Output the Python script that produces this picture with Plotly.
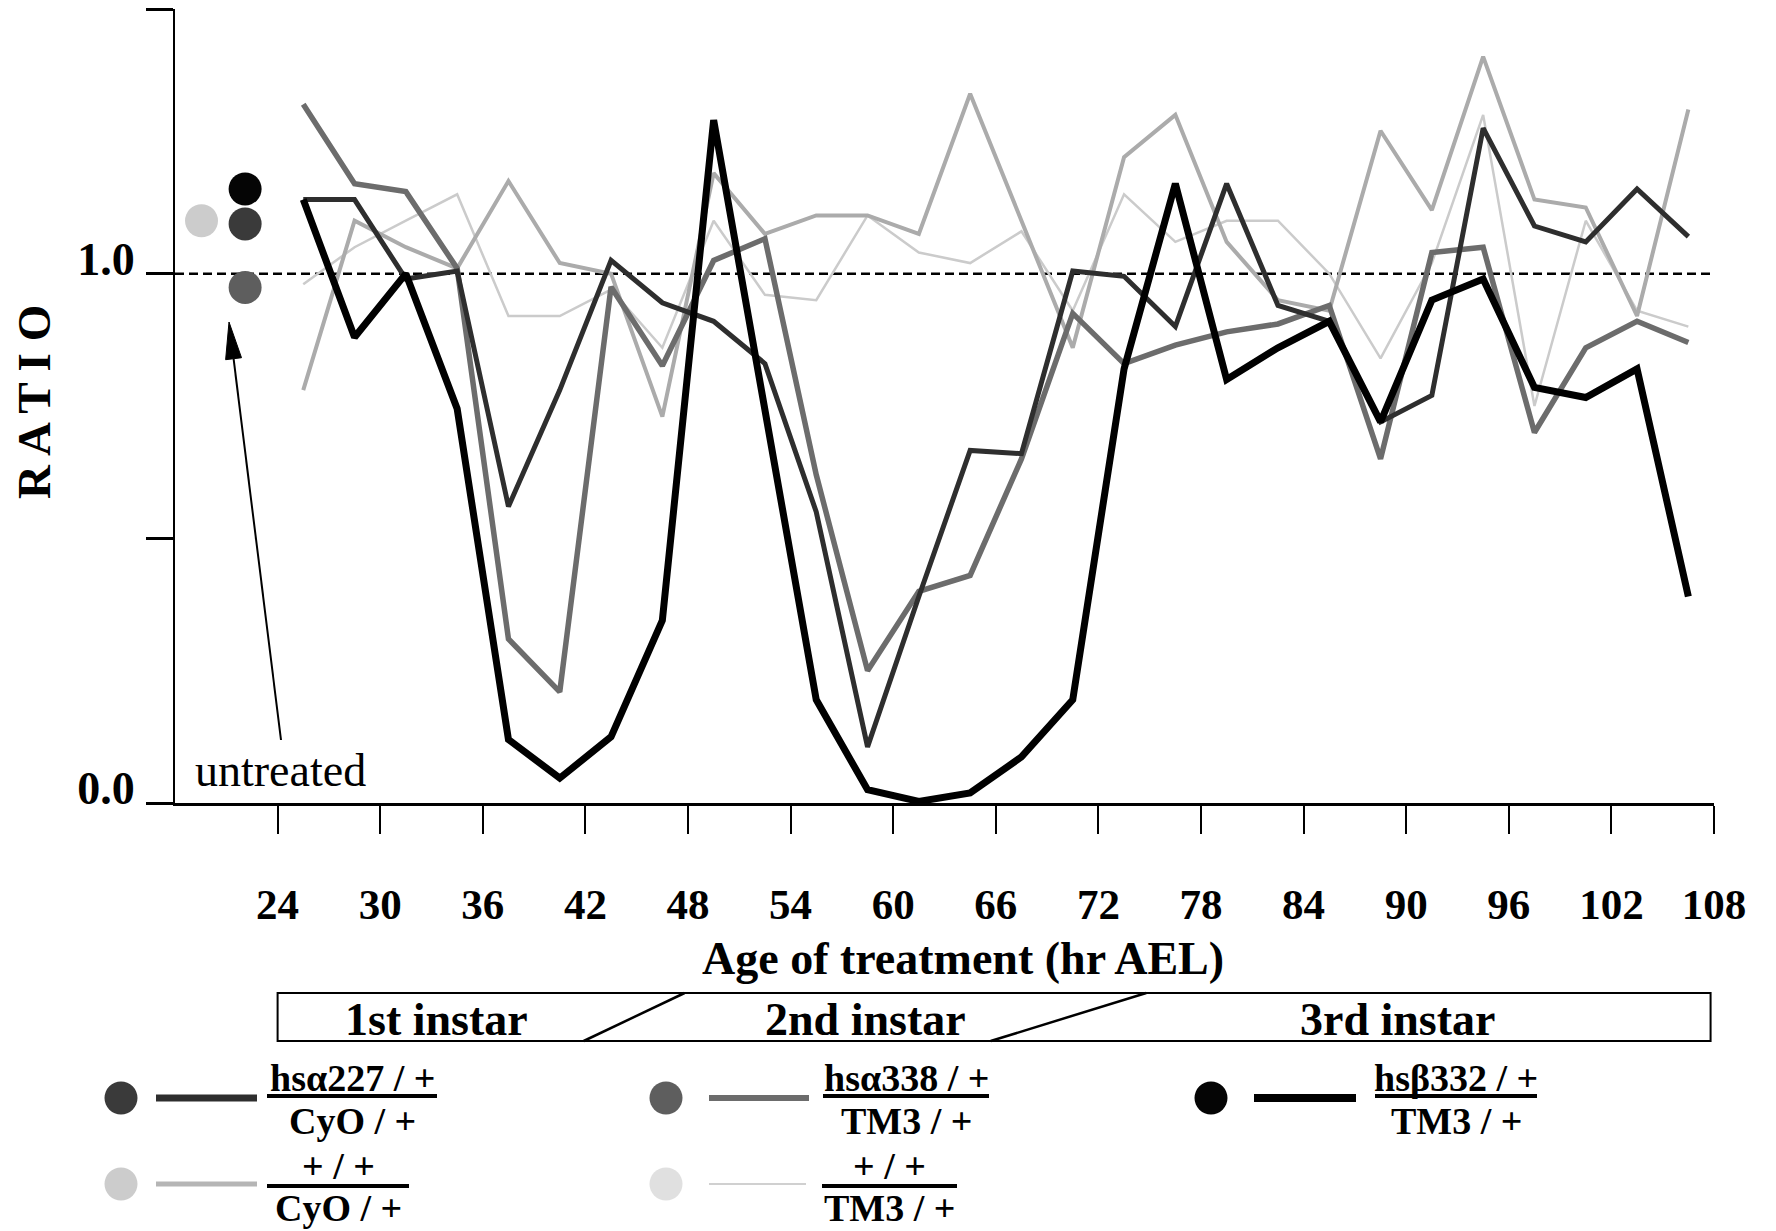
import plotly.graph_objects as go

# ---------------- data ----------------
hours = [25.5, 28.5, 31.5, 34.5, 37.5, 40.5, 43.5, 46.5, 49.5, 52.5, 55.5, 58.5, 61.5, 64.5,
         67.5, 70.5, 73.5, 76.5, 79.5, 82.5, 85.5, 88.5, 91.5, 94.5, 97.5, 100.5, 103.5, 106.5]

hsa227_cyo = [1.14, 1.14, 0.99, 1.005, 0.56, 0.78, 1.025, 0.945, 0.91, 0.83, 0.55, 0.106, 0.39, 0.666,
              0.66, 1.005, 0.995, 0.90, 1.17, 0.94, 0.91, 0.72, 0.77, 1.275, 1.09, 1.06, 1.16, 1.07]
hsa338_tm3 = [1.32, 1.17, 1.155, 1.01, 0.31, 0.21, 0.975, 0.826, 1.025, 1.066, 0.62, 0.25, 0.40, 0.43,
              0.65, 0.925, 0.83, 0.865, 0.89, 0.905, 0.94, 0.65, 1.04, 1.05, 0.70, 0.86, 0.91, 0.87]
hsb332_tm3 = [1.14, 0.88, 1.00, 0.745, 0.12, 0.047, 0.125, 0.345, 1.29, 0.75, 0.195, 0.025, 0.003, 0.019,
              0.087, 0.195, 0.82, 1.17, 0.80, 0.86, 0.91, 0.72, 0.95, 0.99, 0.785, 0.766, 0.82, 0.39]
wt_cyo = [0.78, 1.10, 1.05, 1.01, 1.175, 1.02, 1.00, 0.73, 1.19, 1.075, 1.11, 1.11, 1.075, 1.34,
          1.10, 0.86, 1.22, 1.30, 1.06, 0.95, 0.93, 1.27, 1.12, 1.41, 1.14, 1.125, 0.92, 1.31]
wt_tm3 = [0.98, 1.05, 1.10, 1.15, 0.92, 0.92, 0.97, 0.86, 1.10, 0.96, 0.95, 1.11, 1.04, 1.02,
          1.08, 0.93, 1.15, 1.06, 1.10, 1.10, 1.00, 0.84, 1.02, 1.30, 0.75, 1.10, 0.93, 0.90]

untreated_names = ["+/+ CyO", "hsb332", "hsa227", "hsa338"]
untreated_values = [1.10, 1.16, 1.094, 0.974]

x_tick_hours = [24, 30, 36, 42, 48, 54, 60, 66, 72, 78, 84, 90, 96, 102, 108]
x_tick_labels = ["24", "30", "36", "42", "48", "54", "60", "66", "72", "78", "84", "90", "96", "102", "108"]
y_tick_vals = [0.0, 0.5, 1.0, 1.5]
y_tick_labels = ["0.0", "", "1.0", ""]

stage_names = ["1st instar", "2nd instar", "3rd instar"]

# ---------------- layout constants ----------------
W, H = 1776, 1231
PL, PR, PT, PB = 175, 1714, 9, 803
XR = [18, 108]
YR = [0, 1.5]
SERIF = "Liberation Serif"

def pxx(px):
    return (px - PL) / (PR - PL)

def pxy(py):
    return (PB - py) / (PB - PT)

fig = go.Figure()

series = [
    (wt_tm3, "#cbcbcb", 2.5),
    (wt_cyo, "#ababab", 4),
    (hsa338_tm3, "#6c6c6c", 5.5),
    (hsa227_cyo, "#2e2e2e", 5),
    (hsb332_tm3, "#000000", 7),
]
for vals, col, w in series:
    fig.add_trace(go.Scatter(x=hours, y=vals, mode="lines",
                             line=dict(color=col, width=w), hoverinfo="skip"))

# untreated dots
untreated_x = [19.55, 22.1, 22.1, 22.1]
untreated_colors = ["#cccccc", "#050505", "#3a3a3a", "#5e5e5e"]
fig.add_trace(go.Scatter(x=untreated_x, y=untreated_values, mode="markers",
                         marker=dict(size=33, color=untreated_colors, line=dict(width=0)),
                         hoverinfo="skip"))

shapes = []
annotations = []

# dashed reference line at 1.0
shapes.append(dict(type="line", xref="x", yref="y", x0=18, x1=107.8, y0=1.0, y1=1.0,
                   line=dict(color="black", width=2.5, dash="9px,5px"), layer="below"))

# arrow for "untreated"
tail = (281, 740)
tip = (229, 322)
dx, dy = tip[0] - tail[0], tip[1] - tail[1]
L = (dx * dx + dy * dy) ** 0.5
ux, uy = dx / L, dy / L
nx, ny = -uy, ux
head_len, head_half = 37, 8
bx, by = tip[0] - head_len * ux, tip[1] - head_len * uy
shapes.append(dict(type="line", xref="paper", yref="paper",
                   x0=pxx(tail[0]), y0=pxy(tail[1]), x1=pxx(bx), y1=pxy(by),
                   line=dict(color="black", width=2)))
c1 = (bx + head_half * nx, by + head_half * ny)
c2 = (bx - head_half * nx, by - head_half * ny)
path = "M {:.5f},{:.5f} L {:.5f},{:.5f} L {:.5f},{:.5f} Z".format(
    pxx(tip[0]), pxy(tip[1]), pxx(c1[0]), pxy(c1[1]), pxx(c2[0]), pxy(c2[1]))
shapes.append(dict(type="path", xref="paper", yref="paper", path=path,
                   fillcolor="black", line=dict(color="black", width=1)))

annotations.append(dict(text="untreated", x=pxx(193), y=pxy(770), xref="paper", yref="paper",
                        xanchor="left", yanchor="middle", showarrow=False,
                        font=dict(family=SERIF, size=46, color="black")))

# y title
annotations.append(dict(text="<b>R A T I O</b>", x=pxx(34), y=pxy(402), xref="paper", yref="paper",
                        textangle=-90, xanchor="center", yanchor="middle", showarrow=False,
                        font=dict(family=SERIF, size=47, color="black")))
# x title
annotations.append(dict(text="<b>Age of treatment (hr AEL)</b>", x=pxx(963), y=pxy(958),
                        xref="paper", yref="paper", xanchor="center", yanchor="middle",
                        showarrow=False, font=dict(family=SERIF, size=46, color="black")))

# stage bar
bar_top, bar_bot = 993, 1041
shapes.append(dict(type="rect", xref="x", yref="paper", x0=24, x1=107.8,
                   y0=pxy(bar_bot), y1=pxy(bar_top), line=dict(color="black", width=2)))
for xb, xt in [(41.9, 47.8), (65.7, 74.8)]:
    shapes.append(dict(type="line", xref="x", yref="paper", x0=xb, x1=xt,
                       y0=pxy(bar_bot), y1=pxy(bar_top), line=dict(color="black", width=2.5)))
for name, xc in zip(stage_names, [33.3, 58.4, 89.5]):
    annotations.append(dict(text="<b>%s</b>" % name, x=xc, y=pxy(1019), xref="x", yref="paper",
                            xanchor="center", yanchor="middle", showarrow=False,
                            font=dict(family=SERIF, size=46, color="black")))

# legend (built by hand: dot, line sample, genotype fraction)
legend_entries = [
    dict(cx=121, row=0, ccol="#3a3a3a", lx0=156, lx1=257, lcol="#2e2e2e", lw=7,
         bx0=267, bx1=437, num="hsα227 / +", den="CyO / +"),
    dict(cx=666, row=0, ccol="#5e5e5e", lx0=709, lx1=809, lcol="#6c6c6c", lw=6,
         bx0=823, bx1=989, num="hsα338 / +", den="TM3 / +"),
    dict(cx=1211, row=0, ccol="#050505", lx0=1254, lx1=1356, lcol="#000000", lw=8,
         bx0=1375, bx1=1537, num="hsβ332 / +", den="TM3 / +"),
    dict(cx=121, row=1, ccol="#cccccc", lx0=156, lx1=257, lcol="#b5b5b5", lw=5,
         bx0=267, bx1=409, num="+ / +", den="CyO / +"),
    dict(cx=666, row=1, ccol="#e0e0e0", lx0=709, lx1=806, lcol="#d0d0d0", lw=2,
         bx0=822, bx1=957, num="+ / +", den="TM3 / +"),
]
row_y = [1098, 1184]
row_bar = [1096, 1186]
row_num = [1078, 1166]
row_den = [1121, 1208]
for e in legend_entries:
    r = e["row"]
    cy = row_y[r]
    shapes.append(dict(type="circle", xref="paper", yref="paper",
                       xsizemode="pixel", ysizemode="pixel",
                       xanchor=pxx(e["cx"]), yanchor=pxy(cy),
                       x0=-16.5, x1=16.5, y0=-16.5, y1=16.5,
                       fillcolor=e["ccol"], line=dict(width=0)))
    shapes.append(dict(type="line", xref="paper", yref="paper",
                       x0=pxx(e["lx0"]), x1=pxx(e["lx1"]), y0=pxy(cy), y1=pxy(cy),
                       line=dict(color=e["lcol"], width=e["lw"])))
    shapes.append(dict(type="line", xref="paper", yref="paper",
                       x0=pxx(e["bx0"]), x1=pxx(e["bx1"]), y0=pxy(row_bar[r]), y1=pxy(row_bar[r]),
                       line=dict(color="black", width=4)))
    xc = pxx((e["bx0"] + e["bx1"]) / 2)
    annotations.append(dict(text="<b>%s</b>" % e["num"], x=xc, y=pxy(row_num[r]),
                            xref="paper", yref="paper", xanchor="center", yanchor="middle",
                            showarrow=False, font=dict(family=SERIF, size=38, color="black")))
    annotations.append(dict(text="<b>%s</b>" % e["den"], x=xc, y=pxy(row_den[r]),
                            xref="paper", yref="paper", xanchor="center", yanchor="middle",
                            showarrow=False, font=dict(family=SERIF, size=38, color="black")))

fig.update_layout(
    width=W, height=H,
    margin=dict(l=PL, r=W - PR, t=PT, b=H - PB, pad=0),
    paper_bgcolor="white", plot_bgcolor="white",
    showlegend=False,
    font=dict(family=SERIF, color="black"),
    shapes=shapes, annotations=annotations,
    xaxis=dict(range=XR, showgrid=False, zeroline=False, showline=True, linecolor="black",
               linewidth=3, ticks="outside", ticklen=28, tickwidth=2, tickcolor="black",
               tickvals=x_tick_hours, ticktext=x_tick_labels, automargin=False,
               tickfont=dict(family=SERIF, size=43, color="black", weight="bold"),
               ticklabelstandoff=33),
    yaxis=dict(range=YR, showgrid=False, zeroline=False, showline=True, linecolor="black",
               linewidth=2, ticks="outside", ticklen=27, tickwidth=2.5, tickcolor="black",
               tickvals=y_tick_vals, ticktext=y_tick_labels, automargin=False,
               tickfont=dict(family=SERIF, size=46, color="black", weight="bold"),
               ticklabelstandoff=2, ticklabelshift=-15),
)

fig.write_html("out.html")
